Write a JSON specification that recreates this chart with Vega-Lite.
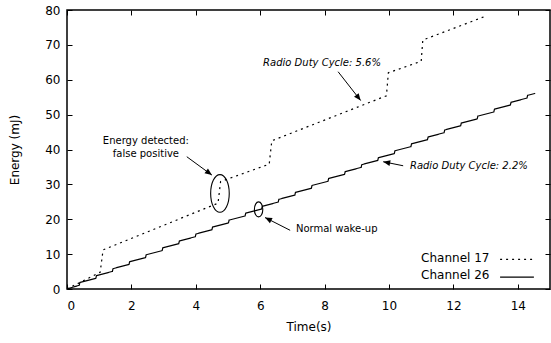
{
  "$schema": "https://vega.github.io/schema/vega-lite/v6.json",
  "width": 483,
  "height": 279,
  "autosize": {"type": "none"},
  "padding": {"left": 67, "top": 10, "right": 1, "bottom": 54},
  "config": {
    "view": {"stroke": "#000", "strokeWidth": 1.5},
    "font": "DejaVu Sans",
    "axis": {
      "domain": false,
      "grid": false,
      "tickColor": "#000",
      "tickSize": -5,
      "tickWidth": 1,
      "labelFont": "DejaVu Sans",
      "labelFontSize": 12,
      "labelColor": "#000",
      "titleFont": "DejaVu Sans",
      "titleFontSize": 12,
      "titleFontWeight": "normal",
      "titleColor": "#000"
    }
  },
  "datasets": {
    "series": [
      {"time": 0, "energy": 0, "channel": "Channel 17"},
      {"time": 1.03, "energy": 4.8, "channel": "Channel 17"},
      {"time": 1.12, "energy": 11.2, "channel": "Channel 17"},
      {"time": 4.69, "energy": 24.6, "channel": "Channel 17"},
      {"time": 4.77, "energy": 30.8, "channel": "Channel 17"},
      {"time": 6.28, "energy": 35.8, "channel": "Channel 17"},
      {"time": 6.36, "energy": 42.5, "channel": "Channel 17"},
      {"time": 9.92, "energy": 55.4, "channel": "Channel 17"},
      {"time": 9.98, "energy": 62.0, "channel": "Channel 17"},
      {"time": 11.0, "energy": 65.3, "channel": "Channel 17"},
      {"time": 11.05, "energy": 71.4, "channel": "Channel 17"},
      {"time": 13.05, "energy": 78.4, "channel": "Channel 17"},
      {"time": 0, "energy": 0, "channel": "Channel 26"},
      {"time": 0.38, "energy": 1.07, "channel": "Channel 26"},
      {"time": 0.40, "energy": 1.87, "channel": "Channel 26"},
      {"time": 0.895, "energy": 3.05, "channel": "Channel 26"},
      {"time": 0.915, "energy": 3.85, "channel": "Channel 26"},
      {"time": 1.41, "energy": 5.04, "channel": "Channel 26"},
      {"time": 1.43, "energy": 5.84, "channel": "Channel 26"},
      {"time": 1.925, "energy": 7.03, "channel": "Channel 26"},
      {"time": 1.945, "energy": 7.83, "channel": "Channel 26"},
      {"time": 2.44, "energy": 9.02, "channel": "Channel 26"},
      {"time": 2.46, "energy": 9.82, "channel": "Channel 26"},
      {"time": 2.955, "energy": 11.01, "channel": "Channel 26"},
      {"time": 2.975, "energy": 11.81, "channel": "Channel 26"},
      {"time": 3.47, "energy": 12.99, "channel": "Channel 26"},
      {"time": 3.49, "energy": 13.79, "channel": "Channel 26"},
      {"time": 3.985, "energy": 14.98, "channel": "Channel 26"},
      {"time": 4.005, "energy": 15.78, "channel": "Channel 26"},
      {"time": 4.5, "energy": 16.97, "channel": "Channel 26"},
      {"time": 4.52, "energy": 17.77, "channel": "Channel 26"},
      {"time": 5.015, "energy": 18.96, "channel": "Channel 26"},
      {"time": 5.035, "energy": 19.76, "channel": "Channel 26"},
      {"time": 5.53, "energy": 20.95, "channel": "Channel 26"},
      {"time": 5.55, "energy": 21.75, "channel": "Channel 26"},
      {"time": 6.045, "energy": 22.93, "channel": "Channel 26"},
      {"time": 6.065, "energy": 23.73, "channel": "Channel 26"},
      {"time": 6.56, "energy": 24.92, "channel": "Channel 26"},
      {"time": 6.58, "energy": 25.72, "channel": "Channel 26"},
      {"time": 7.075, "energy": 26.91, "channel": "Channel 26"},
      {"time": 7.095, "energy": 27.71, "channel": "Channel 26"},
      {"time": 7.59, "energy": 28.9, "channel": "Channel 26"},
      {"time": 7.61, "energy": 29.7, "channel": "Channel 26"},
      {"time": 8.105, "energy": 30.89, "channel": "Channel 26"},
      {"time": 8.125, "energy": 31.69, "channel": "Channel 26"},
      {"time": 8.62, "energy": 32.87, "channel": "Channel 26"},
      {"time": 8.64, "energy": 33.67, "channel": "Channel 26"},
      {"time": 9.135, "energy": 34.86, "channel": "Channel 26"},
      {"time": 9.155, "energy": 35.66, "channel": "Channel 26"},
      {"time": 9.65, "energy": 36.85, "channel": "Channel 26"},
      {"time": 9.67, "energy": 37.65, "channel": "Channel 26"},
      {"time": 10.165, "energy": 38.84, "channel": "Channel 26"},
      {"time": 10.185, "energy": 39.64, "channel": "Channel 26"},
      {"time": 10.68, "energy": 40.82, "channel": "Channel 26"},
      {"time": 10.7, "energy": 41.62, "channel": "Channel 26"},
      {"time": 11.195, "energy": 42.81, "channel": "Channel 26"},
      {"time": 11.215, "energy": 43.61, "channel": "Channel 26"},
      {"time": 11.71, "energy": 44.8, "channel": "Channel 26"},
      {"time": 11.73, "energy": 45.6, "channel": "Channel 26"},
      {"time": 12.225, "energy": 46.79, "channel": "Channel 26"},
      {"time": 12.245, "energy": 47.59, "channel": "Channel 26"},
      {"time": 12.74, "energy": 48.78, "channel": "Channel 26"},
      {"time": 12.76, "energy": 49.58, "channel": "Channel 26"},
      {"time": 13.255, "energy": 50.76, "channel": "Channel 26"},
      {"time": 13.275, "energy": 51.56, "channel": "Channel 26"},
      {"time": 13.77, "energy": 52.75, "channel": "Channel 26"},
      {"time": 13.79, "energy": 53.55, "channel": "Channel 26"},
      {"time": 14.285, "energy": 54.74, "channel": "Channel 26"},
      {"time": 14.305, "energy": 55.54, "channel": "Channel 26"},
      {"time": 14.54, "energy": 56.1, "channel": "Channel 26"}
    ],
    "arrows": [
      {"name": "detected", "x": 3.72, "y": 37.93, "x2": 4.5, "y2": 32.66},
      {"name": "duty56", "x": 8.42, "y": 62.3, "x2": 9.12, "y2": 54.04},
      {"name": "duty22", "x": 10.44, "y": 35.34, "x2": 9.82, "y2": 36.49},
      {"name": "wakeup", "x": 6.93, "y": 16.83, "x2": 6.15, "y2": 20.49}
    ],
    "ellipses": [
      {"name": "false positive", "x": 4.75, "y": 27.4},
      {"name": "normal", "x": 5.95, "y": 22.82}
    ],
    "notes": [
      {"text": "Radio Duty Cycle: 5.6%", "kind": "italic", "x": 6.09, "y": 64.75},
      {"text": "Radio Duty Cycle: 2.2%", "kind": "italic", "x": 10.65, "y": 35.25},
      {"text": "Energy detected:", "kind": "center", "x": 2.45, "y": 42.53},
      {"text": "false positive", "kind": "center", "x": 2.45, "y": 38.62},
      {"text": "Normal wake-up", "kind": "left", "x": 7.11, "y": 17.32}
    ],
    "legend": [
      {"channel": "Channel 17", "x": 13.12, "y": 8.83, "lx": 13.45, "lx2": 14.5, "ly": 8.5},
      {"channel": "Channel 26", "x": 13.12, "y": 4.09, "lx": 13.45, "lx2": 14.5, "ly": 3.4}
    ]
  },
  "layer": [
    {
      "data": {"name": "series"},
      "mark": {"type": "line", "color": "#000", "strokeWidth": 1.2, "clip": true},
      "encoding": {
        "x": {"field": "time", "type": "quantitative", "scale": {"domain": [0, 15], "nice": false, "zero": false},
              "axis": {"values": [0, 2, 4, 6, 8, 10, 12, 14], "title": "Time(s)", "labelPadding": 16, "titlePadding": 10}},
        "y": {"field": "energy", "type": "quantitative", "scale": {"domain": [0, 80], "nice": false, "zero": false},
              "axis": {"values": [0, 10, 20, 30, 40, 50, 60, 70, 80], "title": "Energy (mJ)", "labelPadding": 12, "titlePadding": 23}},
        "strokeDash": {"field": "channel", "type": "nominal",
                       "scale": {"domain": ["Channel 17", "Channel 26"], "range": [[2, 4], [1, 0]]}, "legend": null},
        "order": {"field": "time", "type": "quantitative"}
      }
    },
    {
      "data": {"name": "series"},
      "mark": {"type": "point", "opacity": 0},
      "encoding": {
        "x": {"field": "time", "type": "quantitative",
              "axis": {"orient": "top", "values": [0, 2, 4, 6, 8, 10, 12, 14], "labels": false, "title": null, "ticks": true, "tickSize": -5, "tickColor": "#000"}},
        "y": {"field": "energy", "type": "quantitative",
              "axis": {"orient": "right", "values": [0, 10, 20, 30, 40, 50, 60, 70, 80], "labels": false, "title": null, "ticks": true, "tickSize": -5, "tickColor": "#000"}}
      }
    },
    {
      "data": {"name": "arrows"},
      "mark": {"type": "rule", "color": "#000", "strokeWidth": 1},
      "encoding": {
        "x": {"field": "x", "type": "quantitative", "axis": null},
        "y": {"field": "y", "type": "quantitative", "axis": null},
        "x2": {"field": "x2"},
        "y2": {"field": "y2"}
      }
    },
    {
      "data": {"name": "arrows"},
      "transform": [{"filter": "datum.name === 'detected'"}],
      "mark": {"type": "point", "shape": "M 0 0 L -1 -0.42 L -1 0.42 Z", "size": 196, "filled": true, "color": "#000", "opacity": 1, "angle": 36},
      "encoding": {
        "x": {"field": "x2", "type": "quantitative", "axis": null},
        "y": {"field": "y2", "type": "quantitative", "axis": null}
      }
    },
    {
      "data": {"name": "arrows"},
      "transform": [{"filter": "datum.name === 'duty56'"}],
      "mark": {"type": "point", "shape": "M 0 0 L -1 -0.42 L -1 0.42 Z", "size": 196, "filled": true, "color": "#000", "opacity": 1, "angle": 52},
      "encoding": {
        "x": {"field": "x2", "type": "quantitative", "axis": null},
        "y": {"field": "y2", "type": "quantitative", "axis": null}
      }
    },
    {
      "data": {"name": "arrows"},
      "transform": [{"filter": "datum.name === 'duty22'"}],
      "mark": {"type": "point", "shape": "M 0 0 L -1 -0.42 L -1 0.42 Z", "size": 196, "filled": true, "color": "#000", "opacity": 1, "angle": 191},
      "encoding": {
        "x": {"field": "x2", "type": "quantitative", "axis": null},
        "y": {"field": "y2", "type": "quantitative", "axis": null}
      }
    },
    {
      "data": {"name": "arrows"},
      "transform": [{"filter": "datum.name === 'wakeup'"}],
      "mark": {"type": "point", "shape": "M 0 0 L -1 -0.42 L -1 0.42 Z", "size": 196, "filled": true, "color": "#000", "opacity": 1, "angle": 207},
      "encoding": {
        "x": {"field": "x2", "type": "quantitative", "axis": null},
        "y": {"field": "y2", "type": "quantitative", "axis": null}
      }
    },
    {
      "data": {"name": "ellipses"},
      "transform": [{"filter": "datum.name === 'false positive'"}],
      "mark": {"type": "point", "shape": "M 0.493 0 C 0.493 0.552 0.272 1 0 1 C -0.272 1 -0.493 0.552 -0.493 0 C -0.493 -0.552 -0.272 -1 0 -1 C 0.272 -1 0.493 -0.552 0.493 0 Z",
               "size": 1421, "filled": false, "color": "#000", "strokeWidth": 1.1, "opacity": 1},
      "encoding": {
        "x": {"field": "x", "type": "quantitative", "axis": null},
        "y": {"field": "y", "type": "quantitative", "axis": null}
      }
    },
    {
      "data": {"name": "ellipses"},
      "transform": [{"filter": "datum.name === 'normal'"}],
      "mark": {"type": "point", "shape": "M 0.56 0 C 0.56 0.552 0.309 1 0 1 C -0.309 1 -0.56 0.552 -0.56 0 C -0.56 -0.552 -0.309 -1 0 -1 C 0.309 -1 0.56 -0.552 0.56 0 Z",
               "size": 225, "filled": false, "color": "#000", "strokeWidth": 1.1, "opacity": 1},
      "encoding": {
        "x": {"field": "x", "type": "quantitative", "axis": null},
        "y": {"field": "y", "type": "quantitative", "axis": null}
      }
    },
    {
      "data": {"name": "notes"},
      "transform": [{"filter": "datum.kind === 'italic'"}],
      "mark": {"type": "text", "align": "left", "baseline": "middle", "fontSize": 10, "fontStyle": "italic", "font": "DejaVu Sans", "color": "#000"},
      "encoding": {
        "x": {"field": "x", "type": "quantitative", "axis": null},
        "y": {"field": "y", "type": "quantitative", "axis": null},
        "text": {"field": "text"}
      }
    },
    {
      "data": {"name": "notes"},
      "transform": [{"filter": "datum.kind === 'center'"}],
      "mark": {"type": "text", "align": "center", "baseline": "middle", "fontSize": 10, "font": "DejaVu Sans", "color": "#000"},
      "encoding": {
        "x": {"field": "x", "type": "quantitative", "axis": null},
        "y": {"field": "y", "type": "quantitative", "axis": null},
        "text": {"field": "text"}
      }
    },
    {
      "data": {"name": "notes"},
      "transform": [{"filter": "datum.kind === 'left'"}],
      "mark": {"type": "text", "align": "left", "baseline": "middle", "fontSize": 10, "font": "DejaVu Sans", "color": "#000"},
      "encoding": {
        "x": {"field": "x", "type": "quantitative", "axis": null},
        "y": {"field": "y", "type": "quantitative", "axis": null},
        "text": {"field": "text"}
      }
    },
    {
      "data": {"name": "legend"},
      "mark": {"type": "text", "align": "right", "baseline": "middle", "fontSize": 12, "font": "DejaVu Sans", "color": "#000"},
      "encoding": {
        "x": {"field": "x", "type": "quantitative", "axis": null},
        "y": {"field": "y", "type": "quantitative", "axis": null},
        "text": {"field": "channel"}
      }
    },
    {
      "data": {"name": "legend"},
      "mark": {"type": "rule", "color": "#000", "strokeWidth": 1.2},
      "encoding": {
        "x": {"field": "lx", "type": "quantitative", "axis": null},
        "x2": {"field": "lx2"},
        "y": {"field": "ly", "type": "quantitative", "axis": null},
        "strokeDash": {"field": "channel", "type": "nominal",
                       "scale": {"domain": ["Channel 17", "Channel 26"], "range": [[2, 4], [1, 0]]}, "legend": null}
      }
    }
  ],
  "resolve": {"axis": {"x": "independent", "y": "independent"}}
}
